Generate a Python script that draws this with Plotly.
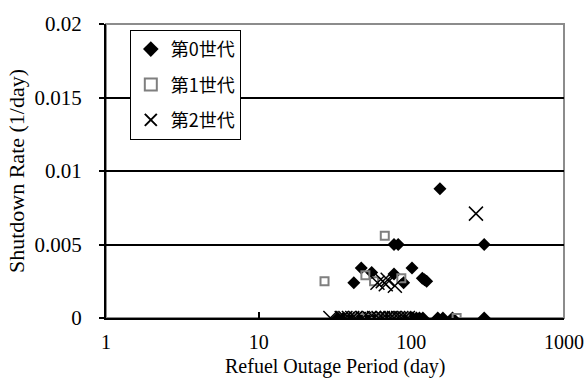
import plotly.graph_objects as go

# Generation 0 (diamonds)
gen0_x = [154, 77, 82, 300, 47, 55, 42, 101, 77, 89, 118, 126, 122,
          33, 36, 38, 40, 42, 44, 45, 47, 49, 50, 52, 54, 56, 58, 60, 62, 64, 66, 68,
          70, 72, 75, 78, 80, 84, 88, 92, 97, 102, 108, 113, 119, 149, 161, 186, 300]
gen0_y = [0.0088, 0.005, 0.005, 0.005, 0.0034, 0.0031, 0.0024, 0.0034, 0.0030, 0.0024,
          0.0027, 0.0025, 0.0026] + [0.0] * 36

# Generation 1 (open squares)
gen1_x = [67, 27, 50, 57, 86, 40, 46, 52, 58, 63, 70, 76, 82, 90, 198]
gen1_y = [0.0056, 0.0025, 0.0029, 0.0025, 0.0027] + [0.0] * 10

# Generation 2 (crosses)
gen2_x = [265, 60, 68, 70, 78, 65,
          29.5, 35, 37, 39, 41, 43, 48, 53, 57, 61, 65, 69, 73, 77, 82, 86, 90, 95]
gen2_y = [0.0071, 0.0024, 0.0023, 0.0026, 0.0022, 0.0025] + [0.0] * 18

series_names = ["第0世代", "第1世代", "第2世代"]
y_ticks = [0, 0.005, 0.01, 0.015, 0.02]
y_tick_labels = ["0", "0.005", "0.01", "0.015", "0.02"]
x_ticks = [1, 10, 100, 1000]
x_tick_labels = ["1", "10", "100", "1000"]
x_title = "Refuel Outage Period (day)"
y_title = "Shutdown Rate (1/day)"

fig = go.Figure()
fig.add_trace(go.Scatter(x=gen0_x, y=gen0_y, mode="markers", name=series_names[0],
                         legendgroup="g0",
                         marker=dict(symbol="diamond", size=10, color="black",
                                     line=dict(width=0))))
fig.add_trace(go.Scatter(x=gen1_x, y=gen1_y, mode="markers", name=series_names[1],
                         legendgroup="g1",
                         marker=dict(symbol="square-open", size=8, color="#7f7f7f",
                                     line=dict(width=2, color="#7f7f7f"))))
fig.add_trace(go.Scatter(x=gen2_x, y=gen2_y, mode="markers", name=series_names[2],
                         legendgroup="g2",
                         marker=dict(symbol="x-thin-open", size=14, color="black",
                                     line=dict(width=1.5, color="black"))))

serif = "Liberation Serif, Times New Roman, serif"

fig.update_layout(
    width=588, height=380,
    margin=dict(l=106, r=24, t=24, b=62, autoexpand=False),
    paper_bgcolor="white", plot_bgcolor="white",
    font=dict(family=serif, size=21, color="black"),
    showlegend=True,
    legend=dict(x=0.052, y=0.98, xanchor="left", yanchor="top",
                bgcolor="white", bordercolor="black", borderwidth=1,
                font=dict(family="Noto Sans CJK JP, sans-serif", size=18, color="black"),
                itemsizing="constant", tracegroupgap=9),
    shapes=[dict(type="rect", xref="paper", yref="paper", x0=0, x1=1, y0=0, y1=1,
                 line=dict(color="#8c8c8c", width=2), layer="below")],
    annotations=[dict(text=x_title, xref="paper", yref="paper", x=0.5, y=-0.166,
                      xanchor="center", yanchor="middle", showarrow=False,
                      font=dict(family=serif, size=20, color="black"))],
)

fig.update_xaxes(type="log", range=[0, 3], tickvals=x_ticks, ticktext=x_tick_labels,
                 showgrid=False, zeroline=False, showline=True, linecolor="black",
                 linewidth=2, ticks="inside", ticklen=6, tickwidth=1.5, tickcolor="black",
                 tickfont=dict(family=serif, size=20), ticklabelstandoff=5,
                 ticklabeloverflow="allow", automargin=False)
fig.update_yaxes(range=[0, 0.02], tickvals=y_ticks, ticktext=y_tick_labels,
                 showgrid=True, gridcolor="black", gridwidth=1.5, zeroline=False,
                 showline=True, linecolor="black", linewidth=2,
                 ticks="outside", ticklen=5, tickwidth=1.5, tickcolor="black",
                 tickfont=dict(family=serif, size=21), ticklabelstandoff=13,
                 automargin=False,
                 title=dict(text=y_title, font=dict(family=serif, size=22),
                            standoff=4))

fig.write_html("out.html")
